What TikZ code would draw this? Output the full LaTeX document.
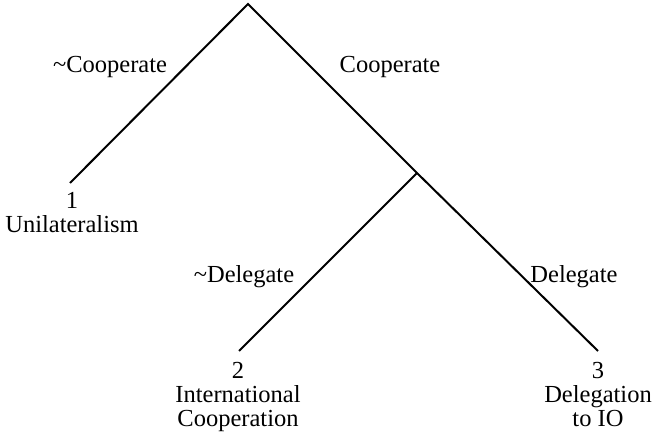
\documentclass[tikz,border=0pt]{standalone}
\usepackage{fontspec}
\setmainfont{Liberation Serif}
\usetikzlibrary{positioning}

\begin{document}
\begin{tikzpicture}[x=1pt, y=-1pt,
      branch/.style={line width=2pt},
      move/.style={inner sep=0pt, font=\fontsize{24.5}{24}\selectfont},
      outcome/.style={anchor=north, inner sep=0pt, align=center,
                      font=\fontsize{24.5}{24}\selectfont}]
    \useasboundingbox (0,0) rectangle (659,433);
    % decision points and end points
    \coordinate (root) at (248,4);
    \coordinate (coop) at (417,173);
    \coordinate (uni) at (70,183);
    \coordinate (intl) at (239,351);
    \coordinate (deleg) at (598,351);
    \draw[branch] (uni) -- (root) -- (coop) -- (deleg);
    \draw[branch] (coop) -- (intl);
    % moves
    \node[move] (notcoop) at (110,67) {\textasciitilde Cooperate};
    \node[move] (yescoop) at (390,67) {Cooperate};
    \node[move] (notdeleg) at (244,277) {\textasciitilde Delegate};
    \node[move] (yesdeleg) at (574,277) {Delegate};
    % outcomes
    \node[outcome] (out1) at (72,192) {1\\Unilateralism};
    \node[outcome] (out2) at (238,362) {2\\International\\Cooperation};
    \node[outcome] (out3) at (598,362) {3\\Delegation\\to IO};
  \end{tikzpicture}
\end{document}
